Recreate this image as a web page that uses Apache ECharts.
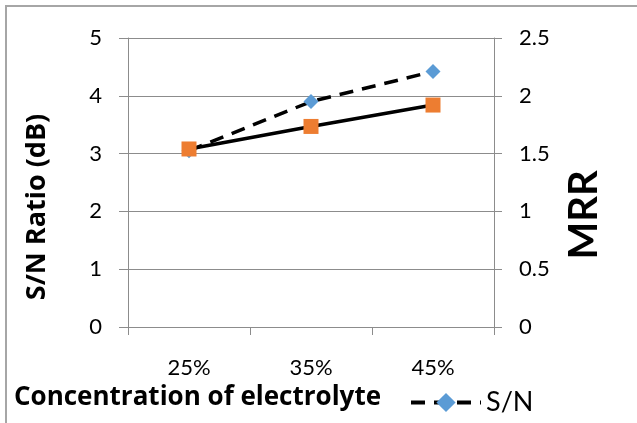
<!DOCTYPE html>
<html>
<head>
<meta charset="utf-8">
<script src="https://cdn.jsdelivr.net/npm/echarts@6/dist/echarts.min.js"></script>
<style>
html,body{margin:0;padding:0;background:#fff;}
#chart{width:637px;height:423px;}
</style>
</head>
<body>
<div id="chart"></div>
<script>
const categories = ['25%', '35%', '45%'];
const snValues = [3.05, 3.90, 4.42];      // S/N Ratio (dB), left axis
const mrrValues = [1.54, 1.735, 1.92];    // MRR, right axis
const leftAxisTitle = 'S/N Ratio (dB)';
const rightAxisTitle = 'MRR';
const xAxisTitle = 'Concentration of electrolyte';

const FONT = 'Lato';
const GRAY = '#8c8c8c';

const chart = echarts.init(document.getElementById('chart'), null, {renderer: 'canvas'});
chart.setOption({
  animation: false,
  backgroundColor: '#fff',
  grid: {left: 128, right: 143, top: 38, bottom: 96, containLabel: false},
  legend: {
    data: ['S/N'],
    left: 404,
    top: 384,
    itemWidth: 70,
    itemHeight: 24,
    itemGap: 6,
    lineStyle: {width: 4, type: [14, 9], color: '#000'},
    textStyle: {fontFamily: FONT, fontSize: 27, color: '#000'}
  },
  xAxis: {
    type: 'category',
    data: categories,
    boundaryGap: true,
    axisLine: {show: true, lineStyle: {color: GRAY, width: 1}},
    axisTick: {show: true, length: 8, inside: false, lineStyle: {color: GRAY}},
    axisLabel: {fontFamily: FONT, fontSize: 22, color: '#000', margin: 30}
  },
  yAxis: [
    {
      type: 'value', min: 0, max: 5, interval: 1, position: 'left',
      axisLine: {show: true, lineStyle: {color: GRAY, width: 1}},
      axisTick: {show: true, length: 9, lineStyle: {color: GRAY}},
      splitLine: {show: true, lineStyle: {color: GRAY, width: 1}},
      axisLabel: {fontFamily: FONT, fontSize: 22, color: '#000', margin: 26}
    },
    {
      type: 'value', min: 0, max: 2.5, interval: 0.5, position: 'right',
      axisLine: {show: true, lineStyle: {color: GRAY, width: 1}},
      axisTick: {show: true, length: 8, lineStyle: {color: GRAY}},
      splitLine: {show: false},
      axisLabel: {fontFamily: FONT, fontSize: 22, color: '#000', margin: 25}
    }
  ],
  graphic: [
    {type: 'rect', silent: true, shape: {x: 6, y: 6, width: 700, height: 500},
     style: {fill: 'none', stroke: '#a6a6a6', lineWidth: 2}},
    {type: 'text', x: 37, y: 207, rotation: Math.PI / 2,
     style: {text: leftAxisTitle, font: 'bold 27px "Open Sans"', fill: '#000', align: 'center', verticalAlign: 'middle'}},
    {type: 'text', x: 584, y: 215, rotation: Math.PI / 2,
     style: {text: rightAxisTitle, font: 'bold 40px Lato', fill: '#000', align: 'center', verticalAlign: 'middle'}},
    {type: 'text', x: 14, y: 398,
     style: {text: xAxisTitle, font: 'bold 26px "Open Sans"', fill: '#000', align: 'left', verticalAlign: 'middle'}}
  ],
  series: [
    {
      name: 'S/N', type: 'line', yAxisIndex: 0, data: snValues,
      symbol: 'diamond', symbolSize: 15,
      itemStyle: {color: '#5B9BD5'},
      lineStyle: {color: '#000', width: 3.5, type: [14, 9]},
      z: 2
    },
    {
      name: 'MRR', type: 'line', yAxisIndex: 1, data: mrrValues,
      symbol: 'rect', symbolSize: 15,
      itemStyle: {color: '#ED7D31'},
      lineStyle: {color: '#000', width: 3.5, type: 'solid'},
      z: 3
    }
  ]
});
</script>
</body>
</html>
